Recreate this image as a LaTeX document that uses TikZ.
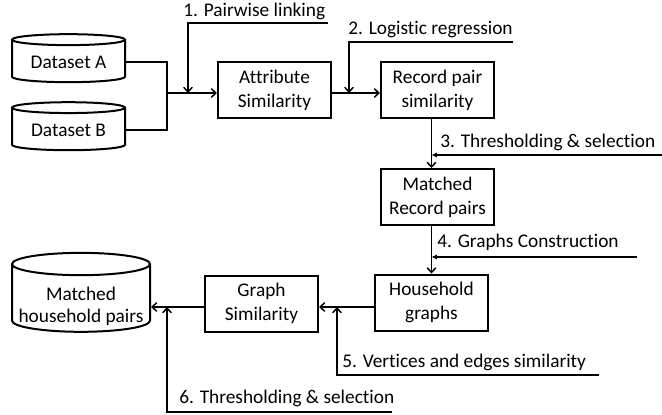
\documentclass[tikz,border=0pt]{standalone}
\usepackage{fontspec}
\setmainfont{Carlito}[Ligatures=NoCommon]
\usetikzlibrary{shapes.geometric,arrows.meta}

\tikzset{
  procbox/.style={draw,line width=1.5pt,minimum width=84.75pt,minimum height=42pt,
    align=center,inner sep=1pt,font=\fontsize{14.5}{18}\selectfont},
  dbcyl/.style={draw,line width=1.5pt,cylinder,shape border rotate=90,aspect=0.14,
    align=center,inner sep=1pt,font=\fontsize{14.5}{16.5}\selectfont},
  steplabel/.style={anchor=base west,inner sep=0pt,font=\fontsize{14.5}{18}\selectfont},
  flow/.style={line width=1.1pt,-{Straight Barb[length=3.5pt,width=6.5pt,line width=1.1pt]}},
  feed/.style={line width=1.1pt,-{Latex[length=4pt,width=4pt]}},
  plain/.style={line width=1.1pt}
}

\begin{document}
\begin{tikzpicture}[x=0.75pt,y=0.75pt,yscale=-1,xscale=1]
\useasboundingbox (0,0) rectangle (662,415);

%Cylinders
\node[dbcyl,minimum width=84.75pt,minimum height=36pt] (dsa) at (68.5,62) {Dataset A};
\node[dbcyl,minimum width=84.75pt,minimum height=36pt] (dsb) at (68.5,130) {Dataset B};
\node[dbcyl,aspect=0.175,minimum width=103.5pt,minimum height=56.25pt] (mhp) at (81,299.5)
  {\raisebox{-6pt}[\height][\depth]{\begin{tabular}{@{}c@{}}Matched\\household pairs\end{tabular}}};

%Boxes
\node[procbox] (as) at (274.5,90) {Attribute\\Similarity};
\node[procbox] (rps) at (437.5,90) {Record pair\\similarity};
\node[procbox] (mrp) at (437.5,197) {Matched\\Record pairs};
\node[procbox] (hhg) at (431.5,302.5) {Household\\graphs};
\node[procbox] (gs) at (261.5,303.5) {Graph\\Similarity};

%Points on the lines
\coordinate (join) at (167,93);
\coordinate (s1) at (328,23);
\coordinate (s1e) at (188,93);
\coordinate (s2) at (513,42);
\coordinate (s2e) at (349,93);
\coordinate (s3) at (662,155);
\coordinate (s4) at (637,257);
\coordinate (s5) at (599,375);
\coordinate (s5e) at (337,307);
\coordinate (s6) at (392,412);
\coordinate (s6e) at (167,307);

%Straight Lines
\draw[plain] (dsa.east) -| (join);
\draw[plain] (dsb.east) -| (join);
\draw[flow] (join) -- (join -| as.west);
\draw[flow] (s1) -| (s1e);
%Straight Lines
\draw[flow] (as.east |- join) -- (rps.west |- join);
\draw[flow] (s2) -| (s2e);
%Straight Lines
\draw[flow] (rps.south -| hhg) -- (mrp.north -| hhg);
\draw[feed] (s3) -- (s3 -| hhg);
\draw[flow] (mrp.south -| hhg) -- (hhg.north);
\draw[feed] (s4) -- (s4 -| hhg);
%Straight Lines
\draw[flow] (hhg.west |- s5e) -- (gs.east |- s5e);
\draw[flow] (s5) -| (s5e);
\draw[flow] (gs.west |- s5e) -- (mhp.east |- s5e);
\draw[flow] (s6) -| (s6e);

% Text Node
\node[steplabel] (l1) at (183,16) {1. Pairwise linking};
% Text Node
\node[steplabel] (l2) at (348,34.5) {2. Logistic regression};
% Text Node
\node[steplabel] (l3) at (440,147) {3. Thresholding \& selection};
% Text Node
\node[steplabel] (l4) at (437,247) {4. Graphs Construction};
% Text Node
\node[steplabel] (l5) at (342,367) {5. Vertices and edges similarity};
% Text Node
\node[steplabel] (l6) at (179,403) {6. Thresholding \& selection};

\end{tikzpicture}
\end{document}
